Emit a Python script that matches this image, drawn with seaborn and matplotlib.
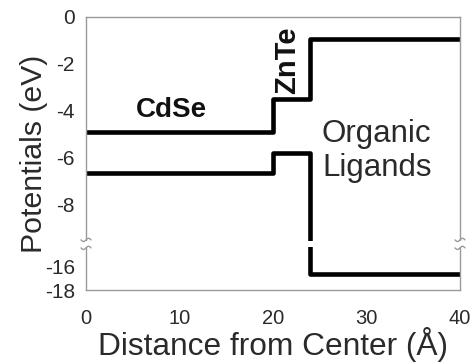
import numpy as np
import pandas as pd
import matplotlib
matplotlib.use("Agg")
import matplotlib.pyplot as plt
import seaborn as sns
from matplotlib.patches import Rectangle
from matplotlib.lines import Line2D
from matplotlib.transforms import IdentityTransform

# ---- data ----
distance = [0, 20, 24, 40]
conduction = [-4.9, -3.5, -0.95, -0.95]
valence = [-6.65, -5.8, -16.65, -16.65]
x_ticks = [0, 10, 20, 30, 40]
y_ticks = [0, -2, -4, -6, -8, -16, -18]

df = pd.DataFrame({
    "x": distance * 2,
    "y": conduction + valence,
    "band": ["CB"] * 4 + ["VB"] * 4,
})

sns.set_theme(style="white")
plt.rcParams["font.family"] = ["Liberation Sans", "DejaVu Sans"]

# piecewise (broken) y scale
_data_pts = [-40.0, -16.0, -8.0, 10.0]
_disp_pts = [-10.6 - 24 * 0.51, -10.6, -8.0, 10.0]

def fwd(y):
    return np.interp(y, _data_pts, _disp_pts)

def inv(d):
    return np.interp(d, _disp_pts, _data_pts)

fig = plt.figure(figsize=(4.73, 3.63), dpi=100)
ax = fig.add_axes([86 / 473, 1 - 290 / 363, (460 - 86) / 473, (290 - 17) / 363])
ax.set_yscale("function", functions=(fwd, inv))

sns.lineplot(data=df, x="x", y="y", units="band", estimator=None,
             color="black", lw=3.3, drawstyle="steps-post",
             solid_capstyle="butt", ax=ax, legend=False)

ax.set_xlim(0, 40)
ax.set_ylim(-18, 0)
ax.set_xticks(x_ticks)
ax.set_yticks(y_ticks)
ax.set_yticklabels([str(t) for t in y_ticks])
ax.minorticks_off()

gray = "#9a9a9a"
txt = "#2a2a2a"
for s in ax.spines.values():
    s.set_color(gray)
    s.set_linewidth(1.0)
ax.tick_params(axis="y", direction="inout", length=4, width=1, color=gray,
               labelsize=15, labelcolor=txt, pad=6)
ax.tick_params(axis="x", direction="in", length=4, width=1, color=gray,
               labelsize=14.5, labelcolor=txt, pad=13.5)

ax.set_xlabel("Distance from Center (Å)", fontsize=22.8, color=txt, labelpad=-0.5)
ax.set_ylabel("Potentials (eV)", fontsize=21.8, color=txt, labelpad=-2)

ax.text(9.1, -4.25, "CdSe", fontsize=20, fontweight="bold", ha="center",
        va="baseline", color="#111111")
ax.text(21.55, -1.85, "ZnTe", fontsize=21, fontweight="bold", ha="center",
        va="center", rotation=90, color="#111111")
ax.text(31.1, -5.7, "Organic\nLigands", fontsize=22.5, ha="center",
        va="center", color=txt, linespacing=1.15)

# axis break marks
fig.canvas.draw()
y_break = -13.1
x0, yb = ax.transData.transform((0, y_break))
x1, _ = ax.transData.transform((40, y_break))
rect = Rectangle((x0 - 8, yb - 2.8), (x1 - x0) + 16, 5.6, transform=IdentityTransform(),
                 facecolor="white", edgecolor="none", zorder=5, clip_on=False)
fig.patches.append(rect)
t = np.linspace(-5, 5, 30)
for xs in (x0, x1):
    for off in (4.0, -4.0):
        fig.lines.append(Line2D(xs + t, yb + off + 1.6 * np.sin(np.pi * t / 5),
                                transform=IdentityTransform(), color=gray,
                                lw=1.0, zorder=6))

fig.savefig("out.png", dpi=100)
